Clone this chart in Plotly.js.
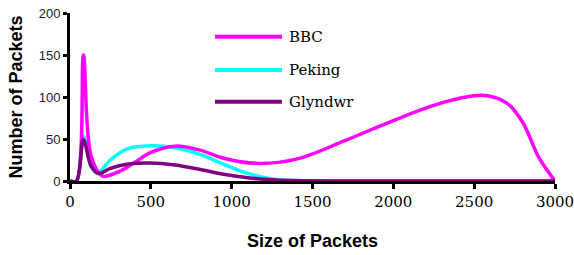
<!DOCTYPE html>
<html>
<head>
<meta charset="utf-8">
<script src="https://cdn.plot.ly/plotly-3.0.1.min.js"></script>
<style>html,body{margin:0;padding:0;background:#fff;}#chart{width:574px;height:255px;}</style>
</head>
<body>
<div id="chart"></div>
<script>
const seriesNames = ["BBC", "Peking", "Glyndwr"];
const seriesColors = ["#FF00FF", "#00FFFF", "#800080"];

const bbcX = [0, 40, 83, 130, 200, 300, 400, 500, 650, 800, 950, 1150, 1400, 1700, 2000, 2300, 2550, 2700, 2800, 2900, 3000];
const bbcY = [0, 0, 150, 30, 6, 11, 22, 34, 41.5, 37, 27, 21, 26, 48, 72, 93, 102, 93, 70, 28, 0];

const pekingX = [0, 40, 83, 130, 170, 250, 350, 500, 650, 800, 950, 1100, 1250, 1400, 1600, 2000, 2500, 3000];
const pekingY = [0, 0, 53, 18, 9.5, 25, 38, 42, 39.5, 32, 20, 9, 2.5, 0.3, 0, 0, 0, 0];

const glyndwrX = [0, 40, 83, 130, 175, 250, 350, 500, 650, 800, 950, 1100, 1250, 1400, 1600, 2000, 2500, 3000];
const glyndwrY = [0, 0, 49, 18, 9, 15, 20, 21.5, 19, 14, 8, 4, 1.5, 0.5, 0, 0, 0, 0];

const xTicks = [0, 500, 1000, 1500, 2000, 2500, 3000];
const yTicks = [0, 50, 100, 150, 200];

const xs = [bbcX, pekingX, glyndwrX];
const ys = [bbcY, pekingY, glyndwrY];

const SERIF = "DejaVu Serif";
const SANS = "Liberation Sans";

const order = [1, 0, 2];
const traces = order.map(i => ({
  x: xs[i], y: ys[i], name: seriesNames[i], type: 'scatter', mode: 'lines',
  line: {color: seriesColors[i], width: 3.5, shape: 'spline', smoothing: 1},
  showlegend: false, hoverinfo: 'skip', cliponaxis: false
}));

const legY = [0.859, 0.661, 0.472];
const shapes = [];
const annotations = [];
for (let i = 0; i < 3; i++) {
  shapes.push({type: 'line', xref: 'paper', yref: 'paper', x0: 0.299, x1: 0.437, y0: legY[i], y1: legY[i],
    line: {color: seriesColors[i], width: 4}});
  annotations.push({xref: 'paper', yref: 'paper', x: 0.447, y: legY[i], xanchor: 'left', yanchor: 'middle',
    text: seriesNames[i], showarrow: false,
    font: {family: SERIF, size: 15, color: '#000'}});
}

const layout = {
  width: 574, height: 255,
  margin: {l: 70, r: 19, t: 13, b: 74},
  paper_bgcolor: '#fff', plot_bgcolor: '#fff',
  showlegend: false,
  xaxis: {
    range: [0, 3000], tickvals: xTicks, ticktext: xTicks.map(String),
    showgrid: false, zeroline: false, showline: true, linecolor: '#000', linewidth: 3,
    ticks: 'outside', ticklen: 5, tickwidth: 3, tickcolor: '#000',
    ticklabeloverflow: 'allow',
    tickfont: {family: SERIF, size: 15, color: '#000'},
    title: {text: '<b>Size of Packets</b>', standoff: 25,
      font: {family: SANS, size: 18, color: '#000'}},
    fixedrange: true
  },
  yaxis: {
    range: [0, 200], tickvals: yTicks, ticktext: yTicks.map(String),
    showgrid: false, zeroline: false, showline: true, linecolor: '#000', linewidth: 3,
    ticks: 'outside', ticklen: 4, tickwidth: 3, tickcolor: '#000',
    tickfont: {family: SANS, size: 13, color: '#222'},
    title: {text: '<b>Number of Packets</b>', standoff: 12,
      font: {family: SANS, size: 18, color: '#000'}},
    fixedrange: true
  },
  shapes: shapes,
  annotations: annotations
};

Plotly.newPlot('chart', traces, layout, {staticPlot: true, displayModeBar: false});
</script>
</body>
</html>
